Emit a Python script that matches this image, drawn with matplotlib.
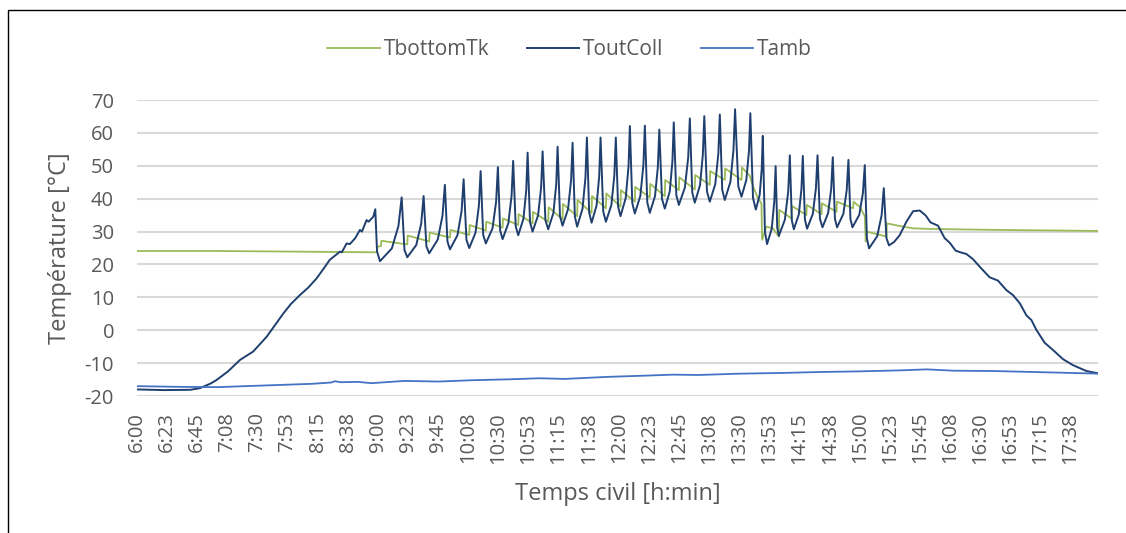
import matplotlib
matplotlib.use("Agg")
import matplotlib.pyplot as plt
from matplotlib.patches import Rectangle

plt.rcParams['font.family'] = ['Open Sans', 'DejaVu Sans']
plt.rcParams['axes.unicode_minus'] = False

# temps en minutes depuis 6:00, valeurs en °C
tout_t = [0, 20, 40, 47, 55, 59.5, 68, 77, 86.7, 96.8, 103, 109.3, 115, 121.7, 128, 134.2,
          139, 144, 151.6, 153, 156.6, 159, 163, 166.5, 168, 171.5, 173, 176.5, 178.0, 179.3, 181.5,
          190.4, 195.3, 197.7, 199.8, 201.9,
          208.6, 212.3, 214.1, 216.2, 218.3,
          224.7, 228.2, 230.0, 231.9, 233.8,
          239.4, 242.5, 244.0, 246.1, 248.2,
          252.9, 255.4, 256.7, 258.6, 260.6,
          265.6, 268.3, 269.6, 271.3, 273.1,
          277.4, 279.8, 281.0, 282.9, 284.8,
          288.7, 290.8, 291.8, 293.6, 295.5,
          299.6, 301.9, 303.0, 305.1, 307.2,
          311.1, 313.2, 314.2, 316.0, 317.9,
          322.0, 324.3, 325.4, 327.1, 328.8,
          332.8, 335.0, 336.1, 337.8, 339.6,
          343.3, 345.3, 346.3, 348.3, 350.3,
          354.4, 356.6, 357.7, 359.4, 361.2,
          365.1, 367.2, 368.2, 370.0, 371.9,
          376.0, 378.3, 379.4, 381.2, 383.1,
          387.0, 389.1, 390.2, 392.2, 394.3,
          398.0, 400.0, 401.0, 402.9, 404.8,
          409.3, 411.8, 413.0, 414.8, 416.7,
          420.6, 422.7, 423.8, 425.8, 427.9,
          432.0, 434.3, 435.4, 437.2, 439.1,
          443.3, 445.6, 446.8, 449.2, 451.6,
          455.2, 457.2, 458.2, 460.2, 462.3,
          465.2, 466.7, 467.5, 469.1, 470.7,
          474.2, 476.1, 477.1, 478.3, 479.5,
          484.0, 486.5, 487.7, 489.2, 490.7,
          494.4, 496.4, 497.4, 499.0, 500.6,
          504.9, 507.2, 508.4, 510.2, 512.1,
          516.3, 518.6, 519.8, 521.4, 523.0,
          527.7, 530.2, 531.5, 533.0, 534.5,
          539.6, 542.3, 543.7, 545.3, 546.9,
          553.0, 556.3, 557.9, 559.9, 561.8,
          565.5, 569.8, 574.8, 579.8, 584.8, 589.2, 592.8, 598.4, 603.4, 607.2, 611.6, 615.9,
          619.6, 624.6, 629.6, 637.0, 643.2, 649.5, 654.4, 659.5, 664.5, 668.2, 671.9, 678.1,
          684.3, 691.8, 699.2, 709.3, 718.0]
tout_v = [-18.0, -18.2, -18.1, -17.6, -16.2, -15.1, -12.5, -9.0, -6.5, -2.0, 1.5, 5.1, 8.0, 10.7, 13.0, 15.8,
          18.5, 21.4, 23.9, 23.7, 26.4, 26.2, 28.0, 30.5, 30.0, 33.5, 33.0, 34.5, 36.8, 24.0, 21.0,
          24.9, 31.7, 40.4, 24.4, 22.2,
          25.9, 32.4, 40.8, 25.5, 23.4,
          27.6, 34.8, 44.2, 27.0, 24.6,
          28.9, 36.3, 45.9, 27.5, 25.0,
          29.7, 37.9, 48.4, 29.0, 26.4,
          31.0, 39.2, 49.6, 30.3, 27.7,
          32.5, 40.8, 51.5, 31.6, 28.9,
          33.9, 42.7, 54.0, 32.9, 30.0,
          34.9, 43.4, 54.4, 33.5, 30.7,
          35.7, 44.5, 55.8, 34.7, 31.8,
          36.8, 45.7, 57.0, 34.6, 31.5,
          36.9, 46.4, 58.6, 35.8, 32.7,
          37.9, 46.9, 58.6, 36.1, 33.0,
          38.1, 47.1, 58.6, 37.6, 34.7,
          40.2, 49.8, 62.1, 38.7, 35.5,
          40.8, 50.2, 62.2, 38.9, 35.7,
          40.8, 49.6, 61.0, 39.9, 37.0,
          42.2, 51.4, 63.2, 41.1, 38.1,
          43.4, 52.6, 64.4, 41.9, 38.8,
          44.1, 53.3, 65.1, 42.2, 39.1,
          44.4, 53.7, 65.6, 42.7, 39.6,
          45.1, 54.8, 67.2, 43.8, 40.6,
          45.7, 54.6, 66.0, 40.2, 36.7,
          41.2, 49.0, 59.1, 30.1, 26.2,
          30.9, 39.2, 49.9, 31.2, 28.7,
          33.6, 42.2, 53.2, 33.4, 30.7,
          35.2, 43.0, 53.0, 33.6, 30.9,
          35.4, 43.2, 53.2, 33.9, 31.3,
          35.6, 43.0, 52.6, 33.9, 31.3,
          35.4, 42.6, 51.8, 33.8, 31.3,
          35.1, 41.7, 50.2, 27.9, 24.9,
          28.6, 35.0, 43.2, 28.0, 25.8,
          26.8, 28.9, 33.0, 36.2, 36.4, 34.9, 32.8, 31.8, 28.0, 26.6, 24.2, 23.6,
          23.2, 21.6, 19.3, 16.1, 15.1, 12.2, 10.7, 8.2, 4.5, 3.1, 0.1, -3.8,
          -6.0, -8.8, -10.6, -12.4, -13.1]

tbot_t = [0, 60, 120, 179.3, 179.6, 182.3, 182.6,
          201.9, 202.2, 218.3, 218.6, 233.8, 234.1, 248.2, 248.5, 260.6, 260.9,
          273.1, 273.4, 284.8, 285.1, 295.5, 295.8, 307.2, 307.5, 317.9, 318.2,
          328.8, 329.1, 339.6, 339.9, 350.3, 350.6, 361.2, 361.5, 371.9, 372.2,
          383.1, 383.4, 394.3, 394.6, 404.8, 405.1, 416.7, 417.0, 427.9, 428.2,
          439.1, 439.4, 451.6, 451.9,
          457.8, 460.5, 463.5, 466.5, 467.0,
          470.2, 475.0, 479.5, 479.8, 489.0, 489.3, 500.1, 500.4, 511.4, 511.7,
          522.6, 522.9, 535.0, 535.3, 540.0, 543.7, 544.4, 545.0, 559.9, 560.2,
          569.8, 579.5, 592.2, 644.5, 718.0]
tbot_v = [24.1, 24.1, 23.9, 23.7, 25.4, 25.6, 27.2,
          26.1, 28.8, 27.0, 29.7, 28.2, 30.5, 29.0, 32.0, 30.3, 33.0,
          31.2, 34.0, 32.0, 35.3, 32.5, 36.0, 33.0, 37.4, 33.7, 38.4,
          34.7, 39.6, 35.7, 40.8, 37.1, 41.6, 37.6, 42.6, 39.1, 43.6,
          40.4, 44.5, 40.8, 45.7, 42.6, 46.5, 42.8, 47.2, 44.2, 48.4,
          45.7, 49.2, 45.7, 49.5,
          47.0, 43.5, 40.5, 38.5, 27.5,
          31.5, 31.0, 28.5, 36.6, 34.0, 37.8, 35.0, 38.1, 35.3, 38.6,
          36.0, 39.1, 37.1, 39.1, 37.5, 34.7, 27.0, 30.0, 28.5, 32.5,
          31.7, 31.0, 30.8, 30.5, 30.2]

tamb_t = [0, 30, 60, 95, 130, 145, 148, 152, 165, 175, 200, 225, 250, 280, 300, 320,
          350, 380, 400, 420, 450, 480, 510, 540, 570, 590, 610, 640, 670, 700, 718]
tamb_v = [-17.0, -17.2, -17.3, -16.8, -16.3, -15.9, -15.5, -15.8, -15.7, -16.1, -15.4, -15.6,
          -15.2, -14.9, -14.6, -14.8, -14.2, -13.8, -13.5, -13.6, -13.2, -13.0, -12.7, -12.5,
          -12.2, -11.9, -12.3, -12.4, -12.7, -13.0, -13.2]

heures = ['6:00', '6:23', '6:45', '7:08', '7:30', '7:53', '8:15', '8:38', '9:00', '9:23',
          '9:45', '10:08', '10:30', '10:53', '11:15', '11:38', '12:00', '12:23', '12:45',
          '13:08', '13:30', '13:53', '14:15', '14:38', '15:00', '15:23', '15:45', '16:08',
          '16:30', '16:53', '17:15', '17:38']
y_ticks = [-20, -10, 0, 10, 20, 30, 40, 50, 60, 70]

gris = '#595959'

fig = plt.figure(figsize=(11.26, 5.33), dpi=100)
ax = fig.add_axes([0.1217, 0.2570, 0.8535, 0.5553])

l1, = ax.plot(tbot_t, tbot_v, color='#9BBB59', lw=1.3)
l2, = ax.plot(tout_t, tout_v, color='#1F3F6E', lw=1.4)
l3, = ax.plot(tamb_t, tamb_v, color='#4472C4', lw=1.3)

ax.set_xlim(0, 718)
ax.set_ylim(-20, 70)
ax.set_yticks(y_ticks)
ax.set_yticklabels([str(v) for v in y_ticks])
ax.set_xticks([i * 22.5 for i in range(len(heures))])
ax.set_xticklabels(heures, rotation=90)
ax.tick_params(axis='both', length=0, labelsize=14.5, labelcolor=gris)
ax.tick_params(axis='x', pad=11.5)
ax.tick_params(axis='y', pad=16.5)

ax.yaxis.grid(True, color='#D9D9D9', lw=1.5)
ax.set_axisbelow(True)
for s in ax.spines.values():
    s.set_visible(False)

ax.set_ylabel('Température [°C]', fontsize=17, color=gris)
ax.yaxis.set_label_coords(-0.068, 0.5)
ax.set_xlabel('Temps civil [h:min]', fontsize=17, color=gris)
ax.xaxis.set_label_coords(0.5, -0.330)
ax.xaxis.label.set_va('center')

fig.legend([l1, l2, l3], ['TbottomTk', 'ToutColl', 'Tamb'], loc='center',
           bbox_to_anchor=(0.506, 0.907), ncol=3, frameon=False, fontsize=15,
           handlelength=2.5, handletextpad=0.2, columnspacing=1.8, labelcolor=gris)

# cadre noir (coupé à droite et en bas)
fig.patches.append(Rectangle((8 / 1126, -0.1), 1.2, 1.0812, transform=fig.transFigure,
                             fill=False, ec='black', lw=1.0))

fig.savefig('out.png', dpi=100)
